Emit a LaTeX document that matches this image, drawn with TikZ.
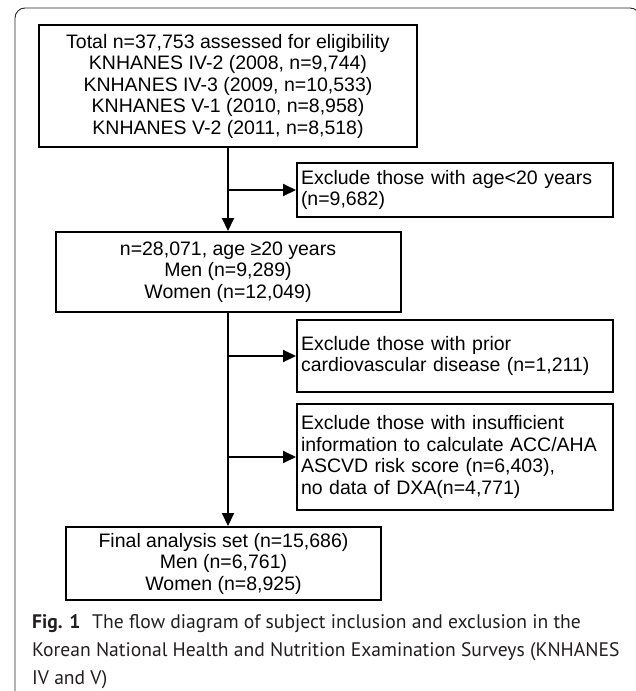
\documentclass[tikz,border=0pt]{standalone}
\usepackage{fontspec}
\setmainfont{Liberation Sans}
\newfontfamily\capfont{PT Sans}
\usetikzlibrary{arrows.meta}
\definecolor{captxt}{HTML}{231F20}
\newcommand{\boxfont}{\fontsize{19.5}{21.5}\selectfont}
\newcommand{\captionfont}{\capfont\fontsize{19.6}{28}\selectfont}
\begin{document}
\begin{tikzpicture}[x=1pt,y=-1pt,
  mainbox/.style={draw=black, line width=2pt, align=center, inner sep=0pt, font=\boxfont},
  exbox/.style={draw=black, line width=2pt, align=left, inner sep=0pt, text width=308pt, minimum width=316pt, font=\boxfont},
  arr/.style={line width=2pt, -{Triangle[length=13pt,width=12pt]}},
  captline/.style={anchor=base west, inner sep=0pt, text=captxt, font=\captionfont},
  frame/.style={draw=black!85, line width=0.9pt, rounded corners=10pt}]
\useasboundingbox (0,0) rectangle (636,691);
\begin{scope}
\clip (0,0) rectangle (636,691);
\draw[frame] (15,720) -- (15,8) -- (640,8) -- (640,720);
\end{scope}

\node[mainbox, minimum width=378pt, minimum height=122pt] (tot) at (228,86)
  {Total n=37,753 assessed for eligibility\\KNHANES IV-2 (2008, n=9,744)\\KNHANES IV-3 (2009, n=10,533)\\KNHANES V-1 (2010, n=8,958)\\KNHANES V-2 (2011, n=8,518)};
\node[exbox, minimum height=54pt] (ex1) at (455,190)
  {Exclude those with age<20 years\\(n=9,682)};
\node[mainbox, minimum width=345pt, minimum height=80pt] (adult) at (228,272)
  {n=28,071, age ≥20 years\\Men (n=9,289)\\Women (n=12,049)};
\node[exbox, minimum height=72pt] (ex2) at (455,356)
  {Exclude those with prior\\cardiovascular disease (n=1,211)};
\node[exbox, minimum height=106pt] (ex3) at (455,457)
  {Exclude those with insufficient\\information to calculate ACC/AHA\\ASCVD risk score (n=6,403),\\no data of DXA(n=4,771)};
\node[mainbox, minimum width=315pt, minimum height=73pt] (final) at (223.5,563.5)
  {Final analysis set (n=15,686)\\Men (n=6,761)\\Women (n=8,925)};

\draw[arr] (tot.south) -- (tot.south |- adult.north);
\draw[arr] (tot.south |- ex1.west) -- (ex1.west);
\draw[arr] (adult.south) -- (adult.south |- final.north);
\draw[arr] (adult.south |- ex2.west) -- (ex2.west);
\draw[arr] (adult.south |- ex3.west) -- (ex3.west);

\node[captline] (cap1) at (32,628) {\textbf{Fig. 1}\hspace{0.6em}The flow diagram of subject inclusion and exclusion in the};
\node[captline] (cap2) at (32,656) {Korean National Health and Nutrition Examination Surveys (KNHANES};
\node[captline] (cap3) at (32,684) {IV and V)};
\end{tikzpicture}
\end{document}
